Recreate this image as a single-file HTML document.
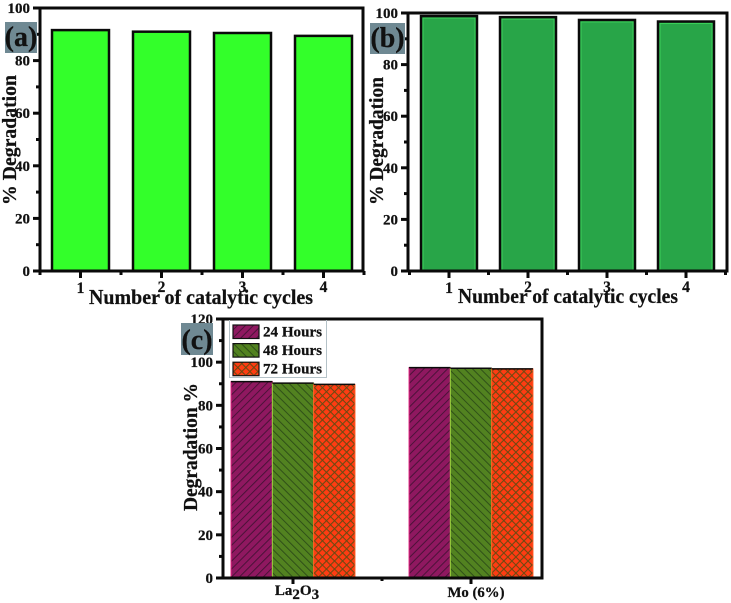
<!DOCTYPE html>
<html>
<head>
<meta charset="utf-8">
<style>
html,body{margin:0;padding:0;background:#fff;width:731px;height:603px;overflow:hidden}
svg{display:block}
text{font-family:"Liberation Serif",serif;font-weight:bold;fill:#111;stroke:#111;stroke-width:.25px}
</style>
</head>
<body>
<svg id="chart" width="731" height="603" viewBox="0 0 731 603" xmlns="http://www.w3.org/2000/svg">
<defs>
<pattern id="hatch-maroon" patternUnits="userSpaceOnUse" width="5.6" height="5.6" patternTransform="rotate(45)">
<rect width="5.6" height="5.6" fill="#8f1860"/>
<rect x="0" width="1" height="5.6" fill="#4a1238"/>
</pattern>
<pattern id="hatch-green" patternUnits="userSpaceOnUse" width="5.6" height="5.6" patternTransform="rotate(-45)">
<rect width="5.6" height="5.6" fill="#528220"/>
<rect x="0" width="1" height="5.6" fill="#2f4f18"/>
</pattern>
<pattern id="hatch-red" patternUnits="userSpaceOnUse" width="5.7" height="5.7" patternTransform="rotate(45)">
<rect width="5.7" height="5.7" fill="#ff3c12"/>
<rect x="0" width="1.05" height="5.7" fill="#6b4a12"/>
<rect y="0" width="5.7" height="1.05" fill="#6b4a12"/>
</pattern>
</defs>
</svg>
<script>
var cyclesCategories = ['1', '2', '3', '4'];
var panelAValues = [91.6, 91, 90.5, 89.4];
var panelBValues = [98.8, 98.4, 97.3, 96.7];
var cycleTicks = [0, 20, 40, 60, 80, 100];
var panelCCategories = ['La2O3', 'Mo (6%)'];
var panelC24Hours = [91, 97.5];
var panelC48Hours = [90.3, 97.2];
var panelC72Hours = [89.7, 96.9];
var panelCTicks = [0, 20, 40, 60, 80, 100, 120];
var legendLabels = ['24 Hours', '48 Hours', '72 Hours'];

var svg = document.getElementById('chart');
var NS = 'http://www.w3.org/2000/svg';

function mk(tag, attrs, parent) {
  var e = document.createElementNS(NS, tag);
  for (var k in attrs) e.setAttribute(k, attrs[k]);
  (parent || svg).appendChild(e);
  return e;
}
function line(g, x1, y1, x2, y2, w) {
  return mk('line', {x1: x1, y1: y1, x2: x2, y2: y2, stroke: '#0a0a0a', 'stroke-width': w}, g);
}
function txt(g, x, y, s, size, anchor) {
  var t = mk('text', {x: x, y: y, 'font-size': size, 'text-anchor': anchor || 'middle'}, g);
  t.textContent = s;
  return t;
}
function scale(d0, d1, r0, r1) {
  return function (v) { return r0 + (v - d0) / (d1 - d0) * (r1 - r0); };
}

function frame(g, L, T, R, B) {
  var r = mk('rect', {x: L, y: T, width: R - L, height: B - T, fill: 'none', stroke: '#0a0a0a', 'stroke-width': 3}, g);
  
  
}

function yAxis(g, y, ticks, L) {
  var ax = mk('g', {}, g);
  
  
  ticks.forEach(function (v, i) {
    line(ax, L - 7, y(v), L, y(v), 3);
    var lab = txt(ax, L - 10, y(v) + 5, String(v), 15, 'end');
    
    
    if (i < ticks.length - 1) {
      var m = (v + ticks[i + 1]) / 2;
      line(ax, L - 4, y(m), L, y(m), 3);
    }
  });
}

function cyclePanel(name, vals, fill, edge, L, T, R, B, x0, step, barW, letter, box, ylabX, ylabY, ylabW, titleX, titleW, titleY) {
  var g = mk('g', {});
  
  
  var y = scale(0, 100, B, T);
  vals.forEach(function (v, i) {
    var cx = x0 + i * step;
    var bar = mk('rect', {x: cx - barW / 2, y: y(v), width: barW, height: B - y(v), fill: fill, stroke: '#0a0a0a', 'stroke-width': 2.5}, g);
    
    
    if (edge) {
      mk('rect', {x: cx - barW / 2 + 2, y: y(v) + 2, width: barW - 4, height: B - y(v) - 3, fill: 'none', stroke: edge, 'stroke-width': 1}, g);
    }
    line(g, cx, B, cx, B + 7, 3);
    line(g, cx + step / 2, B, cx + step / 2, B + 4, 3);
    var lab = txt(g, cx, B + 21 + (i === 0 ? 1 : 0), cyclesCategories[i], 15.5);
    
    
  });
  line(g, x0 - step / 2, B, x0 - step / 2, B + 4, 3);
  frame(g, L, T, R, B);
  yAxis(g, y, cycleTicks, L);
  var bx = mk('rect', {x: box[0], y: box[1], width: box[2], height: box[3], fill: '#6f8993'}, g);
  
  
  var pl = txt(g, box[0] + box[2] / 2, box[1] + box[3] - 7, letter, 28);
  
  
  var yt = txt(g, 0, 0, '% Degradation', 20);
  yt.setAttribute('transform', 'translate(' + ylabX + ',' + ylabY + ') rotate(-90)');
  yt.setAttribute('textLength', ylabW);
  yt.setAttribute('lengthAdjust', 'spacingAndGlyphs');
  
  
  var xt = txt(g, titleX, titleY, 'Number of catalytic cycles', 21);
  xt.setAttribute('textLength', titleW);
  xt.setAttribute('lengthAdjust', 'spacingAndGlyphs');
  
  
}

cyclePanel('panel-a', panelAValues, '#33ff2a', null, 40, 8, 363, 271, 80.5, 81, 57, '(a)', [5, 22, 32, 31], 16, 140, 130, 201, 224, 304);
cyclePanel('panel-b', panelBValues, '#28a548', '#3bd05a', 408, 13, 727, 271, 449, 79, 56, '(b)', [370, 23, 35, 31], 383, 141, 128, 568, 220, 303);

(function () {
  var g = mk('g', {});
  
  
  var L = 223, T = 319, R = 542, B = 578;
  var y = scale(0, 120, B, T);
  var x = scale(0, 1, 293, 471);
  var barW = 41.3;
  var seriesList = [panelC24Hours, panelC48Hours, panelC72Hours];
  var fills = ['url(#hatch-maroon)', 'url(#hatch-green)', 'url(#hatch-red)'];
  var edges = ['#e0207f', '#9fd040', '#ff5a20'];
  var names = ['24h', '48h', '72h'];
  seriesList.forEach(function (vals, s) {
    vals.forEach(function (v, c) {
      var bx = x(c) + (s - 1.5) * barW;
      var bar = mk('rect', {x: bx, y: y(v), width: barW, height: B - y(v), fill: fills[s], stroke: edges[s], 'stroke-width': 1}, g);
      
      
      line(g, bx, y(v), bx + barW, y(v), 1.5);
    });
  });
  frame(g, L, T, R, B);
  yAxis(g, y, panelCTicks, L);
  panelCCategories.forEach(function (c, i) {
    line(g, x(i), B, x(i), B + 6, 3);
    var t;
    if (i === 0) {
      t = mk('text', {x: x(i) + 4, y: 595, 'font-size': 15, 'text-anchor': 'middle'}, g);
      var parts = [['La', 0], ['2', 4], ['O', -4], ['3', 4]];
      parts.forEach(function (p) {
        var sp = mk('tspan', {dy: p[1]}, t);
        sp.textContent = p[0];
      });
    } else {
      t = txt(g, x(i) + 5, 597, c, 15);
      t.setAttribute('textLength', 57);
      t.setAttribute('lengthAdjust', 'spacingAndGlyphs');
    }
    
    
  });
  line(g, (x(0) + x(1)) / 2, B, (x(0) + x(1)) / 2, B + 3, 3);

  var box = mk('rect', {x: 181, y: 323, width: 32, height: 32, fill: '#6f8993'}, g);
  
  
  var pl = txt(g, 197, 349, '(c)', 28);
  
  

  var yt = txt(g, 0, 0, 'Degradation %', 20);
  yt.setAttribute('transform', 'translate(197,447) rotate(-90)');
  yt.setAttribute('textLength', 128);
  yt.setAttribute('lengthAdjust', 'spacingAndGlyphs');
  
  

  var lg = mk('g', {}, g);
  
  
  mk('path', {d: 'M229.5 320V377.5H326.5V320', fill: 'none', stroke: '#b5c2c8', 'stroke-width': 1}, lg);
  legendLabels.forEach(function (label, i) {
    var ly = 325 + i * 18.6;
    var sw = mk('rect', {x: 233, y: ly, width: 26, height: 13.5, fill: fills[i], stroke: '#111', 'stroke-width': 1.2}, lg);
    
    
    var t = txt(lg, 263, ly + 11.5, label, 14.5, 'start');
    t.setAttribute('textLength', 59);
    t.setAttribute('lengthAdjust', 'spacingAndGlyphs');
    
    
  });
})();
</script>
</body>
</html>
